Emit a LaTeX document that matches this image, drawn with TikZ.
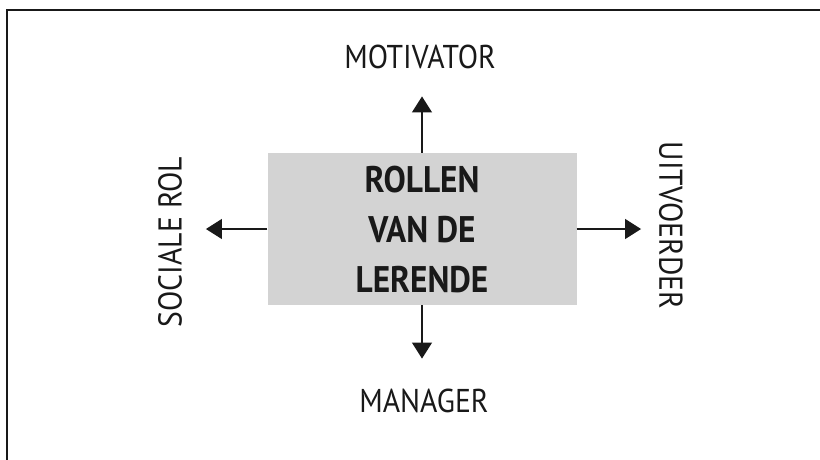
\documentclass[tikz,border=0pt]{standalone}
\usepackage{fontspec}
\setmainfont{PT Sans}[FakeStretch=0.9]
\usetikzlibrary{arrows.meta}
\definecolor{boxgray}{RGB}{211,211,211}
\definecolor{inkblack}{RGB}{25,25,25}

\begin{document}
\begin{tikzpicture}[x=1pt, y=-1pt,
  tip/.style={-{Triangle[length=16pt,width=20pt]}, line width=1.3pt, draw=inkblack},
  lbl/.style={inner sep=0pt, text=inkblack, font=\fontsize{33}{33}\selectfont},
  rolbox/.style={fill=boxgray, minimum width=309pt, minimum height=152pt, inner sep=0pt,
    align=center, text=inkblack, font=\bfseries\fontsize{37}{50}\selectfont}]
\useasboundingbox (0,0) rectangle (820,459);
\draw[line width=2pt, inkblack] (7,460) -- (7,10) -- (821,10);

\node[rolbox] (box) at (422,229) {ROLLEN\\VAN DE\\LERENDE};

\node[lbl, outer sep=28pt] (mot) at (420,56.5) {MOTIVATOR};
\node[lbl, outer sep=30pt] (man) at (424,400.5) {MANAGER};
\node[lbl, outer sep=24pt, rotate=90] (soc) at (170,242) {SOCIALE ROL};
\node[lbl, outer sep=18pt, rotate=-90] (uit) at (671,225.5) {UITVOERDER};

\draw[tip] (box.north) -- (box.north |- mot.south);
\draw[tip] (box.south) -- (box.south |- man.north);
\draw[tip] (box.west) -- (box.west -| soc.south);
\draw[tip] (box.east) -- (box.east -| uit.south);
\end{tikzpicture}
\end{document}
